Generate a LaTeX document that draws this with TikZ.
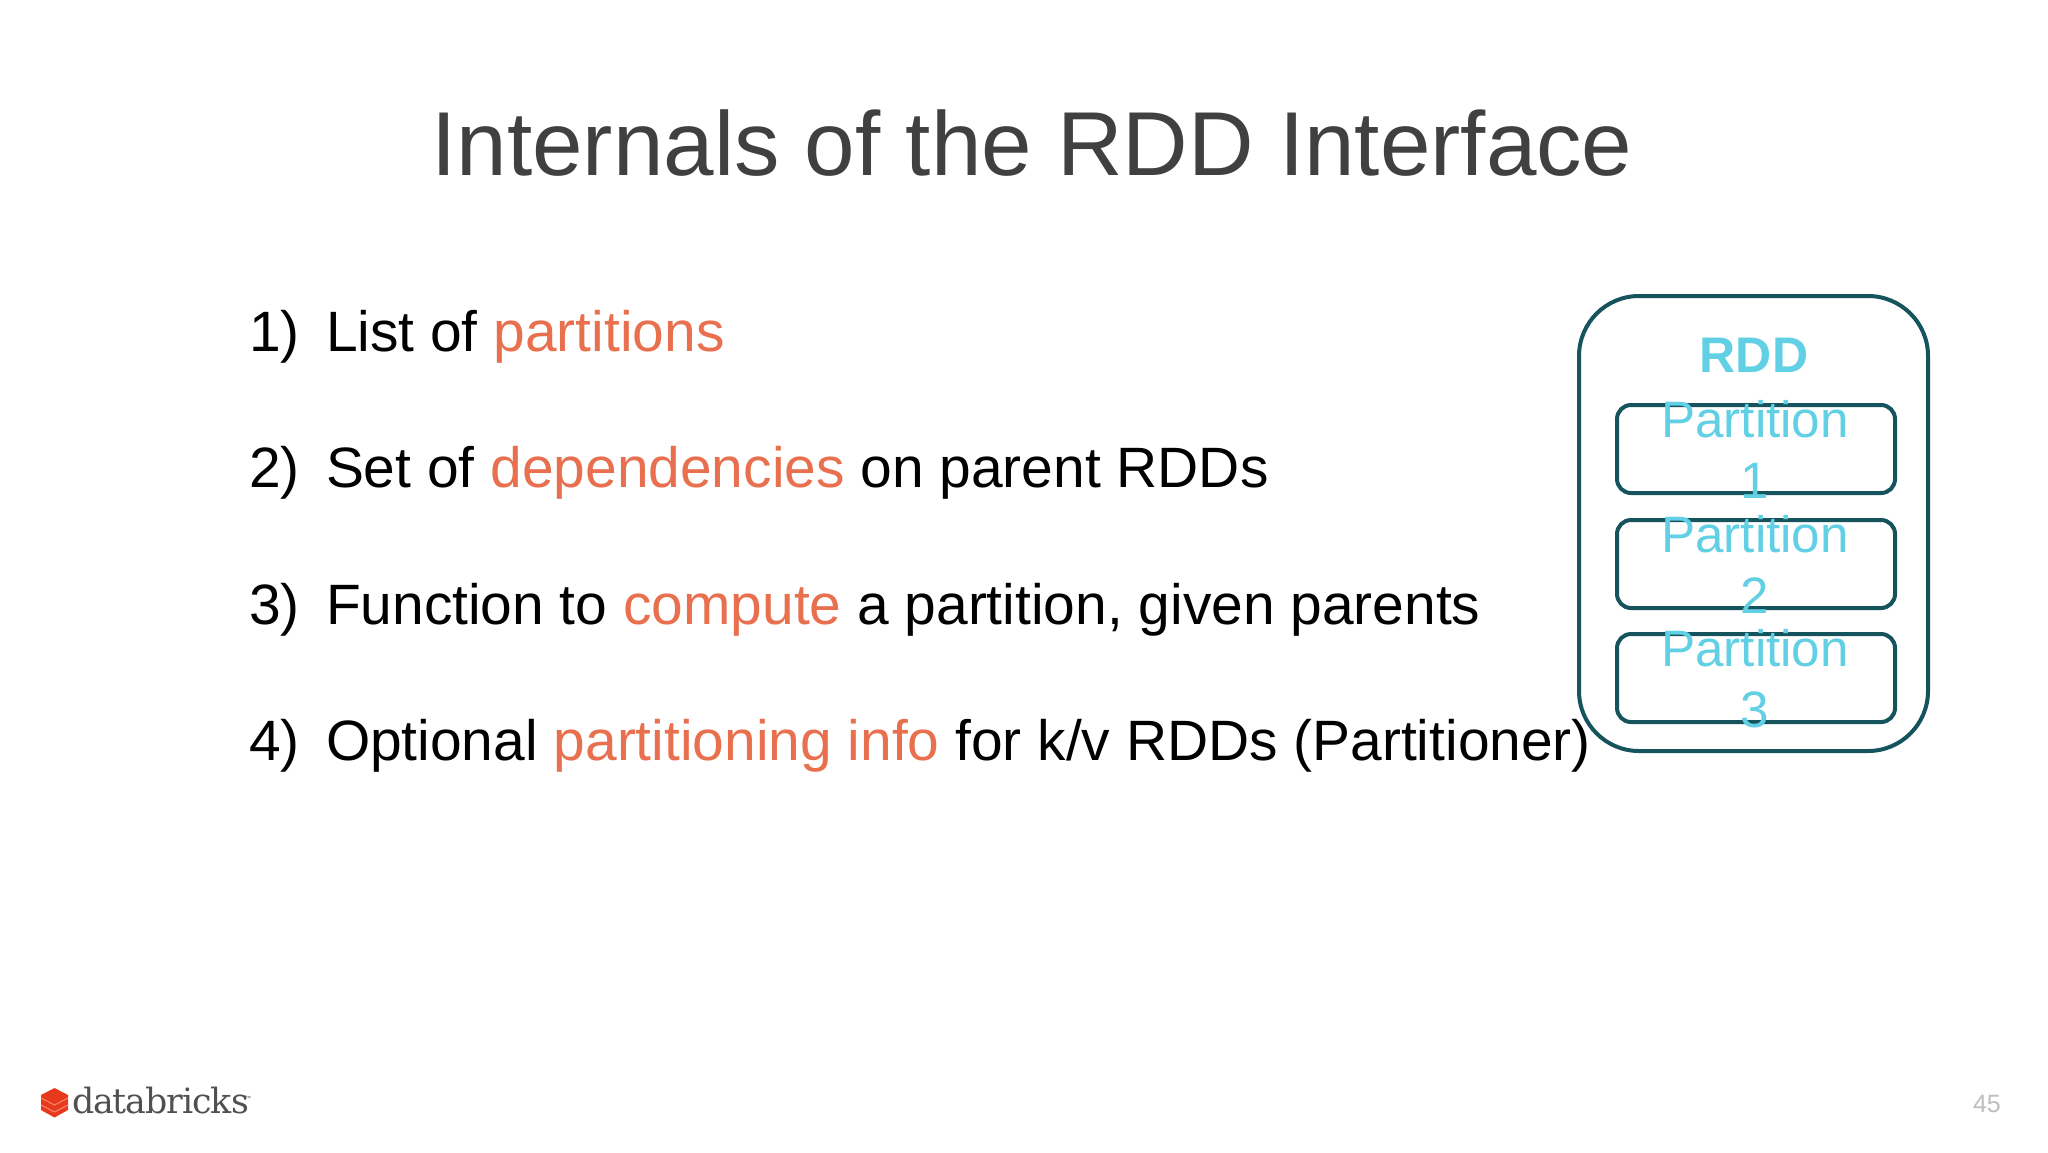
\documentclass[tikz,border=0pt]{standalone}
\usepackage{fontspec}
\setmainfont{Liberation Sans}
\newfontfamily\logofont[LetterSpace=-3]{DejaVu Serif}
\definecolor{titlegray}{HTML}{404040}
\definecolor{accent}{HTML}{E8704F}
\definecolor{tealline}{HTML}{15535D}
\definecolor{cyantext}{HTML}{62D0E4}
\definecolor{logored}{HTML}{E8391D}
\definecolor{logoseam}{HTML}{F58A70}
\definecolor{logogray}{HTML}{505050}
\definecolor{pagegray}{HTML}{BEBEBE}
\tikzset{
  txt/.style={inner sep=0pt,outer sep=0pt,anchor=base west},
  titletext/.style={txt,anchor=base,text=titlegray,font=\fontsize{45.4pt}{54pt}\selectfont},
  bodytext/.style={txt,text=black,font=\fontsize{28.45pt}{34pt}\selectfont},
  outerbox/.style={draw=tealline,line width=2pt,rounded corners=30pt},
  innerbox/.style={draw=tealline,line width=2pt,rounded corners=7pt},
  parttext/.style={txt,anchor=base,text=cyantext,font=\fontsize{25.6pt}{30pt}\selectfont},
  logostack/.style={fill=logored,draw=none},
  logoline/.style={draw=logoseam,line width=0.5pt}
}
\newcommand{\hl}[1]{\textcolor{accent}{#1}}
\begin{document}
\begin{tikzpicture}[x=0.5pt,y=-0.5pt]
\useasboundingbox[fill=white] (0,0) rectangle (2048,1152);
% title
\node[titletext] (title) at (1032,175) {Internals of the RDD Interface};
% list
\node[bodytext] (n1) at (249,351) {1)};
\node[bodytext] (t1) at (326,351) {List of \hl{partitions}};
\node[bodytext] (n2) at (249,487) {2)};
\node[bodytext] (t2) at (326,487) {Set of \hl{dependencies} on parent RDDs};
\node[bodytext] (n3) at (249,624) {3)};
\node[bodytext] (t3) at (326,624) {Function to \hl{compute} a partition, given parents};
\node[bodytext] (n4) at (249,760) {4)};
\node[bodytext] (t4) at (326,760) {Optional \hl{partitioning info} for k/v RDDs (Partitioner)};
% RDD box
\draw[outerbox] (1579,296) rectangle (1928,751);
\draw[innerbox] (1617,405) rectangle (1895,493);
\draw[innerbox] (1617,520) rectangle (1895,608);
\draw[innerbox] (1617,634) rectangle (1895,722);
\node[parttext,font=\fontsize{25pt}{30pt}\selectfont\bfseries] (rdd) at (1754,372) {RDD};
\node[parttext] (p1a) at (1755,437) {Partition};
\node[parttext] (p1b) at (1755,498) {1};
\node[parttext] (p2a) at (1755,552) {Partition};
\node[parttext] (p2b) at (1755,613) {2};
\node[parttext] (p3a) at (1755,666) {Partition};
\node[parttext] (p3b) at (1755,727) {3};
% logo
\fill[logostack] (54.5,1088) -- (68,1095) -- (68,1110) -- (54.5,1117.5) -- (41,1110) -- (41,1095) -- cycle;
\draw[logoline] (41,1098) -- (54.5,1105) -- (68,1098);
\draw[logoline] (41,1105) -- (54.5,1112) -- (68,1105);
\node[txt,text=logogray,font=\logofont\fontsize{17.4pt}{20pt}\selectfont] (logo) at (72,1113) {databricks};
\node[txt,text=logogray,font=\fontsize{3pt}{4pt}\selectfont] (tm) at (245,1100) {™};
% page number
\node[txt,text=pagegray,font=\fontsize{12.5pt}{14pt}\selectfont] (page) at (1973,1112) {45};
\end{tikzpicture}
\end{document}
